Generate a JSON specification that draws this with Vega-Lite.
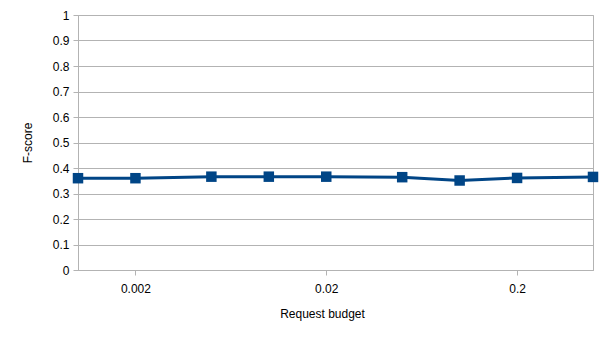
{
  "$schema": "https://vega.github.io/schema/vega-lite/v6.json",
  "width": 515,
  "height": 255,
  "autosize": "none",
  "padding": {"left": 78, "top": 15, "right": 12, "bottom": 70},
  "background": "white",
  "config": {
    "font": "Liberation Sans",
    "view": {"stroke": "#b3b3b3", "strokeWidth": 1},
    "axis": {
      "labelFont": "Liberation Sans",
      "titleFont": "Liberation Sans",
      "labelFontSize": 12,
      "titleFontSize": 12,
      "titleFontWeight": "normal",
      "labelColor": "#000000",
      "titleColor": "#000000",
      "domainColor": "#b3b3b3",
      "tickColor": "#b3b3b3",
      "gridColor": "#b3b3b3",
      "gridOpacity": 1,
      "tickSize": 5
    }
  },
  "data": {
    "values": [
      {"budget": 0.001, "fscore": 0.36},
      {"budget": 0.002, "fscore": 0.36},
      {"budget": 0.005, "fscore": 0.366},
      {"budget": 0.01, "fscore": 0.366},
      {"budget": 0.02, "fscore": 0.366},
      {"budget": 0.05, "fscore": 0.364},
      {"budget": 0.1, "fscore": 0.351},
      {"budget": 0.2, "fscore": 0.361},
      {"budget": 0.5, "fscore": 0.365}
    ]
  },
  "mark": {
    "type": "line",
    "color": "#004586",
    "strokeWidth": 3,
    "clip": false,
    "point": {"shape": "square", "size": 110, "filled": true, "color": "#004586", "opacity": 1}
  },
  "encoding": {
    "x": {
      "field": "budget",
      "type": "quantitative",
      "title": "Request budget",
      "scale": {"type": "log", "domain": [0.001, 0.5], "nice": false},
      "axis": {
        "values": [0.002, 0.02, 0.2],
        "format": "~g",
        "grid": false,
        "labelPadding": 8,
        "titlePadding": 14,
        "titleX": 244
      }
    },
    "y": {
      "field": "fscore",
      "type": "quantitative",
      "title": "F-score",
      "scale": {"domain": [0, 1], "nice": false},
      "axis": {
        "values": [0, 0.1, 0.2, 0.3, 0.4, 0.5, 0.6, 0.7, 0.8, 0.9, 1],
        "format": "~g",
        "labelPadding": 4,
        "titlePadding": 18
      }
    }
  }
}
